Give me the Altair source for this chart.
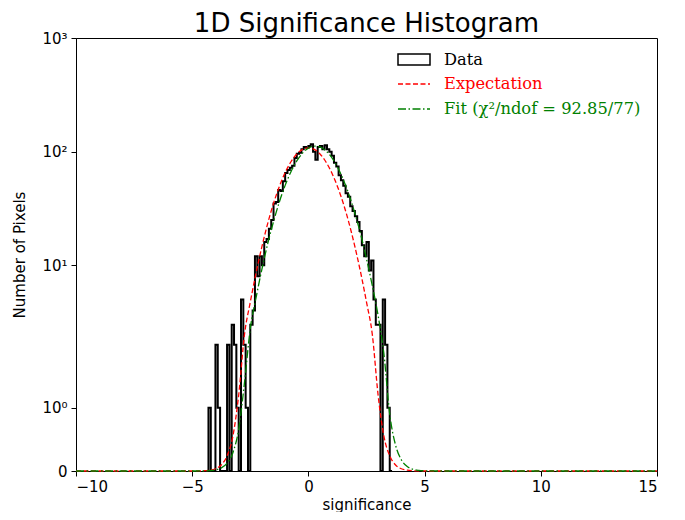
import math
import numpy as np
import pandas as pd
import altair as alt

# ---------------- data ----------------
bin_start = -4.3
bin_width = 0.1
counts = [1, 0, 0, 2, 1, 0, 0, 0, 2, 0,
          3, 2, 1, 0, 5, 2, 1, 0, 3, 4,
          12, 8, 12, 10, 16, 17, 21, 25, 35, 36,
          46, 45, 55, 65, 69, 72, 75, 88, 96, 98,
          105, 110, 108, 112, 116, 100, 85, 110, 112, 105,
          114, 105, 100, 92, 80, 74, 62, 56, 50, 43,
          40, 33, 30, 27, 24, 20, 15, 12, 16, 9,
          11, 5, 3, 3, 0, 5, 2, 1, 0]

exp_x = [-10, -5, -4.75, -4.5, -4.25, -4, -3.75, -3.5, -3.25, -3, -2.75, -2.5, -2.25, -2,
         -1.75, -1.5, -1.25, -1, -0.75, -0.5, -0.25, 0, 0.25, 0.5, 0.75, 1, 1.25, 1.5,
         1.75, 2, 2.25, 2.5, 2.75, 3, 3.25, 3.5, 3.75, 4, 4.25, 4.5, 4.75, 5, 15]
exp_y = [0, 0.0004, 0.0014, 0.0043, 0.013, 0.036, 0.095, 0.24, 0.55, 1.20, 2.46, 4.74, 8.6, 14.6,
         23.4, 35.1, 49.4, 65.5, 81.5, 95.3, 104.7, 108, 104.7, 95.3, 81.5, 65.5, 49.4, 35.1,
         23.4, 14.6, 8.6, 4.74, 2.46, 1.20, 0.55, 0.24, 0.095, 0.036, 0.013, 0.0043, 0.0014, 0.0004, 0]

fit_x = [-10, -5, -4.75, -4.5, -4.25, -4, -3.75, -3.5, -3.25, -3, -2.75, -2.5, -2.25, -2,
         -1.75, -1.5, -1.25, -1, -0.75, -0.5, -0.25, 0, 0.25, 0.5, 0.75, 1, 1.25, 1.5,
         1.75, 2, 2.25, 2.5, 2.75, 3, 3.25, 3.5, 3.75, 4, 4.25, 4.5, 4.75, 5, 5.25, 5.5, 15]
fit_y = [0, 0.0002, 0.0007, 0.002, 0.0065, 0.018, 0.049, 0.124, 0.29, 0.66, 1.40, 2.78, 5.22, 9.26,
         15.5, 24.3, 36.1, 50.5, 66.6, 82.8, 97.1, 107.4, 111.9, 109.9, 101.8, 88.9, 73.2, 56.8,
         41.6, 28.7, 18.7, 11.4, 6.62, 3.61, 1.85, 0.90, 0.41, 0.177, 0.072, 0.027, 0.0099, 0.0034,
         0.0011, 0.0003, 0]

x_ticks = [-10, -5, 0, 5, 10, 15]
y_tick_vals = [0, 1, 10, 100, 1000]
y_tick_labels = ["0", "10\u2070", "10\u00b9", "10\u00b2", "10\u00b3"]

legend_labels = ["Data", "Expectation", "Fit (\u03c7\u00b2/ndof = 92.85/77)"]
legend_colors = ["black", "#ff0000", "#008000"]

# ---------------- scale helpers (matplotlib symlog, linthresh=2) ----------------
LINTHRESH = 2.0
LINSCALE_ADJ = 1.0 / (1.0 - 1.0 / 10.0)


def symlog(v):
    if v <= LINTHRESH:
        return v * LINSCALE_ADJ
    return LINTHRESH * (LINSCALE_ADJ + math.log10(v / LINTHRESH))


sym_expr = ("datum.v <= {t} ? datum.v * {a} : {t} * ({a} + log(datum.v / {t}) / LN10)"
            .format(t=LINTHRESH, a=LINSCALE_ADJ))
y_max = symlog(1000)
y_tick_pos = [symlog(v) for v in y_tick_vals]

label_expr = ""
for i, lab in enumerate(y_tick_labels[:-1]):
    mid = (y_tick_pos[i] + y_tick_pos[i + 1]) / 2
    label_expr += "datum.value < {m} ? '{l}' : ".format(m=mid, l=lab)
label_expr += "'{l}'".format(l=y_tick_labels[-1])

# ---------------- tables ----------------
edges = [round(bin_start + i * bin_width, 3) for i in range(len(counts) + 1)]
hist_x = [edges[0]] + edges[:-1] + [edges[-1]]
hist_v = [0] + counts + [0]
hist_df = pd.DataFrame({"x": hist_x, "v": hist_v, "i": list(range(len(hist_x)))})
exp_df = pd.DataFrame({"x": exp_x, "v": exp_y, "i": list(range(len(exp_x)))})
fit_df = pd.DataFrame({"x": fit_x, "v": fit_y, "i": list(range(len(fit_x)))})

W, H = 581, 433

x_enc = alt.X("x:Q", scale=alt.Scale(domain=[-10, 15], nice=False, zero=False),
              axis=alt.Axis(values=x_ticks, title="significance", grid=False,
                            labelExpr="replace(datum.label, '-', '\u2212')",
                            tickSize=5, labelPadding=3, titlePadding=3))
y_enc = alt.Y("yt:Q", scale=alt.Scale(domain=[0, y_max], nice=False, zero=True),
              axis=alt.Axis(values=y_tick_pos, labelExpr=label_expr, title="Number of Pixels",
                            grid=False, tickSize=5, labelPadding=4, titlePadding=14))

hist = alt.Chart(hist_df).transform_calculate(yt=sym_expr).mark_line(
    interpolate="step-after", color="black", strokeWidth=2
).encode(x=x_enc, y=y_enc, order="i:Q")

expc = alt.Chart(exp_df).transform_calculate(yt=sym_expr).mark_line(
    interpolate="monotone", color="#ff0000", strokeWidth=1.3, strokeDash=[5, 2.5]
).encode(x="x:Q", y="yt:Q", order="i:Q")

fit = alt.Chart(fit_df).transform_calculate(yt=sym_expr).mark_line(
    interpolate="monotone", color="#008000", strokeWidth=1.3, strokeDash=[8, 2.5, 1.5, 2.5]
).encode(x="x:Q", y="yt:Q", order="i:Q")

# ---------------- manual legend ----------------
leg_df = pd.DataFrame({"label": legend_labels, "color": legend_colors})

leg_rect = alt.Chart(leg_df.iloc[[0]]).mark_rect(fill="white", stroke="black", strokeWidth=1.5).encode(
    x=alt.value(322), x2=alt.value(354), y=alt.value(16), y2=alt.value(27))
leg_exp = alt.Chart(leg_df.iloc[[1]]).mark_rule(color="#ff0000", strokeWidth=1.3, strokeDash=[5, 2.5]).encode(
    x=alt.value(322), x2=alt.value(354), y=alt.value(46))
leg_fit = alt.Chart(leg_df.iloc[[2]]).mark_rule(color="#008000", strokeWidth=1.3,
                                                 strokeDash=[8, 2.5, 1.5, 2.5]).encode(
    x=alt.value(322), x2=alt.value(354), y=alt.value(71))

leg_text = []
for idx, ypos in zip(range(3), [22, 46, 71]):
    leg_text.append(
        alt.Chart(leg_df.iloc[[idx]]).mark_text(
            align="left", baseline="middle", font="DejaVu Serif", fontSize=16.3,
            color=legend_colors[idx]
        ).encode(x=alt.value(368), y=alt.value(ypos), text="label:N")
    )

chart = alt.layer(hist, expc, fit, leg_rect, leg_exp, leg_fit, *leg_text).properties(
    width=W, height=H,
    title=alt.TitleParams("1D Significance Histogram", fontSize=26, font="DejaVu Sans",
                          fontWeight="normal", color="black", anchor="middle", offset=-6),
    autosize=alt.AutoSizeParams(type="none"),
    padding={"left": 68, "top": 30, "right": 18, "bottom": 41},
    background="white",
).configure_view(stroke="black", strokeWidth=1).configure_axis(
    labelFont="DejaVu Sans", titleFont="DejaVu Sans", labelFontSize=15, titleFontSize=15,
    titleFontWeight="normal", labelColor="black", titleColor="black",
    domainColor="black", tickColor="black", domainWidth=1, tickWidth=1
)

chart.save("out.html", embed_options={"renderer": "svg", "actions": False})
